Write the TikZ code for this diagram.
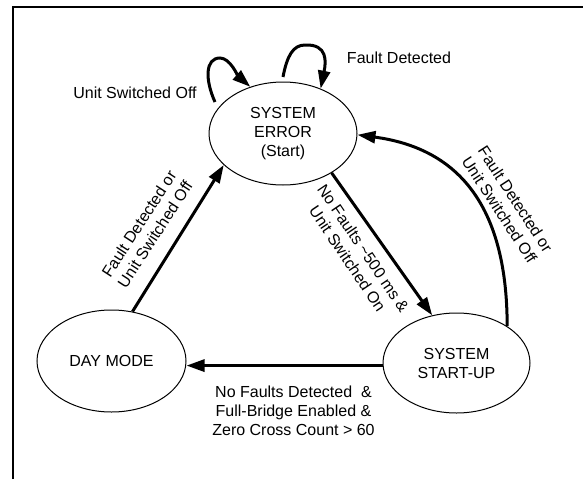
\documentclass[tikz,border=0pt]{standalone}
\usepackage{fontspec}
\setmainfont{Liberation Sans}
\usetikzlibrary{arrows.meta,shapes.geometric}
\begin{document}
\begin{tikzpicture}[x=1pt,y=-1pt,
  every node/.style={font=\fontsize{16}{19}\selectfont, align=center, inner sep=0pt},
  state/.style={draw, ellipse, line width=1pt},
  trans/.style={line width=3pt, -{Triangle[length=18pt,width=12pt]}},
  frame/.style={line width=2.6pt}]
\useasboundingbox (0,0) rectangle (583,479);
% frame
\draw[frame] (13,479) -- (13,7) -- (583,7);
% states
\node[state, minimum width=148pt, minimum height=103pt] (se) at (283,133.5) {SYSTEM\\ERROR\\(Start)};
\node[state, minimum width=149pt, minimum height=102pt] (dm) at (111.5,361) {DAY MODE};
\node[state, minimum width=147pt, minimum height=100pt] (su) at (456.5,363) {SYSTEM\\START-UP};
% self loops
\coordinate (l1) at (215,102);
\coordinate (l2) at (283,77);
\draw[trans] (l1) .. controls (205,80) and (205,58) .. (220,58)
  .. controls (230,58) and (238,76) .. (se.125.4);
\draw[trans] (l2) .. controls (287,56) and (293,45) .. (305,45)
  .. controls (328,44) and (326,62) .. (se.50.9);
% transitions
\draw[trans] (se.-39.6) -- (su.117.9);
\draw[trans] (dm.67.1) -- (se.-152.7);
\draw[trans] (su.182) -- (su.182 -| dm.east);
\draw[trans] (su.36.4) .. controls +(0,-125) and +(97,13) .. (se.-1);
% labels
\node (lso) at (135,93) {Unit Switched Off};
\node (lfd) at (399,58) {Fault Detected};
\node[rotate=57] (ldm) at (147,229) {Fault Detected or\\Unit Switched Off};
\node[rotate=-56] (lnf) at (355.5,253.5) {No Faults \textasciitilde500 ms \&\\Unit Switched On};
\node[rotate=-57] (lsu) at (507.5,204.5) {Fault Detected or\\Unit Switched Off};
\node (lbt) at (293.5,411) {No Faults Detected~~\&\\Full-Bridge Enabled \&\\Zero Cross Count > 60};
\end{tikzpicture}
\end{document}
